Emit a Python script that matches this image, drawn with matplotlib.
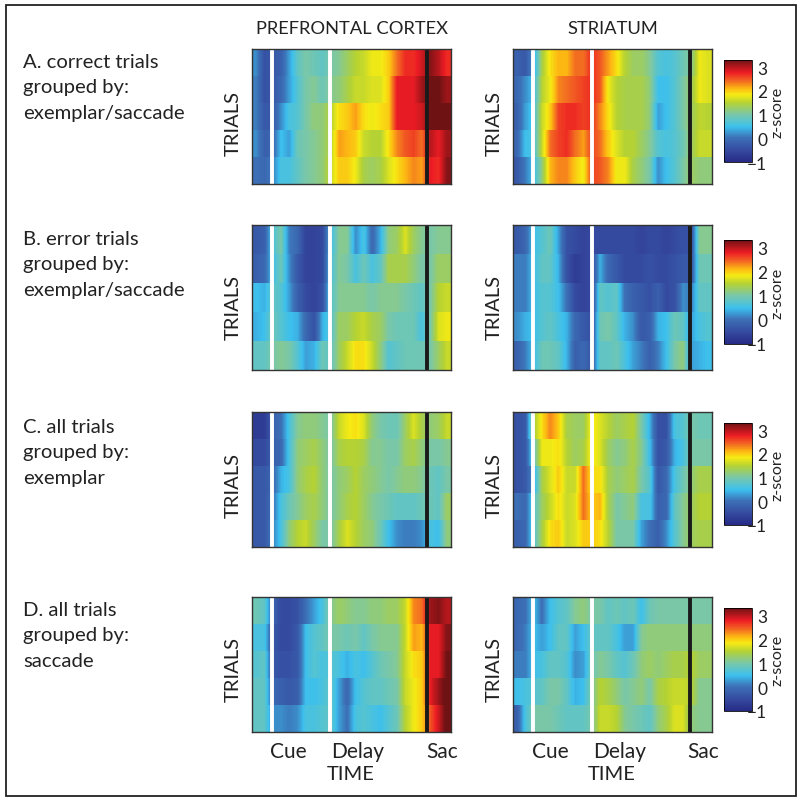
# Z-scored activity heatmaps, prefrontal cortex vs striatum
import matplotlib
matplotlib.use("Agg")
import matplotlib.pyplot as plt
from matplotlib.colors import LinearSegmentedColormap, Normalize
from matplotlib.cm import ScalarMappable
from matplotlib.patches import Rectangle

plt.rcParams['font.family'] = ['Lato', 'DejaVu Sans']

W, H = 800, 803

# ---------------------------------------------------------
# Data (5 trial groups, 24 time bins)
# ---------------------------------------------------------
pfc_a = [
    [0.2, -0.4, -0.3, -0.2, 0.3, 0.8, 1.0, 0.9, 0.8, 1.0, 1.1, 1.3, 1.5, 1.6, 1.8, 1.8, 2.0, 2.4, 2.7, 2.7, 2.9, 3.2, 3.0, 2.7],
    [0.1, -0.4, -0.3, -0.1, 0.3, 0.7, 1.0, 1.1, 0.9, 1.1, 1.2, 1.4, 1.6, 1.6, 1.7, 1.7, 2.0, 2.8, 2.8, 2.8, 3.1, 3.3, 3.3, 3.1],
    [0.1, -0.3, -0.3, 0.2, 0.6, 0.7, 1.0, 1.2, 1.2, 1.5, 1.9, 2.0, 2.2, 1.9, 1.8, 1.9, 2.0, 2.8, 2.8, 2.8, 2.9, 3.3, 3.4, 3.4],
    [0.2, -0.2, -0.1, 0.5, 0.3, 0.9, 1.0, 1.1, 1.2, 1.5, 2.2, 2.1, 2.0, 1.6, 1.5, 1.5, 1.9, 2.3, 2.5, 2.6, 2.4, 3.0, 2.8, 3.1],
    [0.0, -0.1, 0.1, 0.6, 0.6, 0.8, 1.0, 1.1, 1.2, 1.6, 2.0, 2.0, 1.8, 1.4, 1.3, 1.4, 1.7, 1.9, 2.1, 2.3, 2.2, 2.8, 2.7, 3.2],
]
str_a = [
    [-0.2, -0.3, 0.3, 1.4, 1.9, 2.1, 2.1, 2.4, 2.4, 2.7, 2.5, 2.2, 1.9, 1.5, 1.3, 1.3, 1.1, 0.7, 0.6, 0.7, 0.9, 1.1, 1.8, 1.7],
    [-0.1, 0.2, 0.5, 1.5, 1.8, 2.3, 2.4, 2.5, 2.6, 2.7, 2.5, 1.8, 1.5, 1.4, 1.4, 1.4, 1.2, 0.5, 0.5, 0.7, 1.0, 1.3, 1.8, 1.7],
    [-0.2, 0.3, 0.6, 1.6, 2.0, 2.6, 2.7, 2.7, 2.6, 2.7, 2.3, 1.9, 1.5, 1.4, 1.4, 1.4, 1.2, 0.3, 0.5, 0.7, 1.0, 1.3, 1.55, 1.5],
    [-0.1, 0.5, 0.6, 1.6, 2.4, 2.6, 2.7, 2.4, 2.2, 2.6, 2.4, 2.0, 1.7, 1.5, 1.5, 1.3, 1.1, 0.7, 0.6, 0.7, 0.9, 1.3, 1.6, 1.6],
    [-0.3, 0.1, 0.5, 1.2, 2.1, 2.3, 2.3, 2.0, 1.8, 2.6, 2.5, 2.3, 1.8, 1.8, 1.4, 1.2, 1.0, 0.2, 0.5, 0.7, 1.0, 1.3, 1.2, 1.2],
]
pfc_b = [
    [-0.3, -0.2, 0.6, 1.0, 0.1, -0.1, -0.6, -0.6, -0.5, 0.5, 1.1, 1.1, 0.2, 0.6, -0.1, 0.4, 1.2, 1.3, 1.7, 1.3, 1.1, 1.0, 1.1, 1.1],
    [-0.2, -0.1, 0.5, 0.9, 0.2, -0.3, -0.6, -0.6, -0.5, 0.6, 1.1, 1.0, 0.6, 0.9, 0.6, 0.8, 1.4, 1.4, 1.4, 1.2, 1.0, 1.0, 1.3, 1.3],
    [0.5, 0.4, 0.8, 0.7, 0.3, -0.2, -0.5, -0.6, -0.4, 0.7, 1.1, 1.1, 1.1, 1.1, 1.0, 1.1, 1.1, 1.1, 1.0, 0.9, 0.8, 1.0, 1.5, 1.6],
    [0.4, 0.5, 0.9, 0.7, 0.5, 0.4, -0.1, -0.4, 0.4, 0.7, 1.3, 1.3, 1.5, 1.6, 1.4, 1.3, 1.0, 0.9, 0.9, 0.9, 0.6, 1.0, 1.7, 1.8],
    [0.8, 0.8, 1.0, 1.1, 1.0, 0.7, 0.3, 0.4, 0.9, 0.8, 1.3, 1.6, 1.9, 1.9, 1.6, 1.2, 0.7, 0.8, 0.9, 0.9, 0.9, 1.0, 1.3, 1.6],
]
str_b = [
    [-0.3, -0.1, 0.5, 0.7, 0.9, 0.3, -0.4, -0.5, -0.6, -0.5, -0.5, -0.5, -0.5, -0.5, -0.5, -0.6, -0.5, -0.5, -0.6, -0.5, -0.4, -0.4, 1.1, 1.1],
    [0.1, 0.1, 0.5, 0.8, 0.8, 0.4, -0.4, -0.7, -0.6, -0.5, 0.4, -0.1, -0.3, -0.5, -0.5, -0.5, -0.4, -0.5, -0.5, -0.4, -0.3, -0.3, 0.9, 0.9],
    [0.1, 0.1, 0.5, 0.7, 0.7, 0.5, 0.0, -0.5, -0.6, -0.5, 0.8, 0.7, 0.8, 0.0, -0.2, -0.3, -0.4, -0.2, -0.5, -0.4, 0.2, 0.1, 0.8, 0.8],
    [0.2, 0.4, 0.5, 0.7, 0.8, 0.6, 0.4, -0.1, -0.3, -0.4, 0.9, 1.0, 0.8, 0.4, 0.2, -0.3, -0.2, 0.4, 0.5, 0.9, 0.8, 0.3, 0.6, 0.7],
    [-0.2, 0.1, 0.5, 0.9, 0.9, 0.8, 0.4, -0.2, -0.1, -0.3, 0.8, 0.8, 0.9, 0.6, 0.3, 0.1, -0.2, 0.1, 0.5, 1.0, 1.2, 0.3, 0.4, 0.5],
]
pfc_c = [
    [-0.7, -0.7, -0.2, 0.0, 0.6, 1.1, 1.2, 1.2, 1.1, 1.0, 1.6, 1.8, 1.9, 1.7, 1.2, 1.0, 0.9, 0.9, 1.3, 1.7, 1.4, 1.2, 1.3, 1.6],
    [-0.5, -0.5, -0.2, -0.1, 0.6, 1.2, 1.3, 1.4, 1.2, 1.0, 1.4, 1.5, 1.5, 1.4, 1.1, 1.1, 1.0, 1.0, 1.3, 1.4, 1.2, 1.0, 1.0, 1.1],
    [-0.3, -0.3, -0.1, 0.4, 0.6, 1.2, 1.4, 1.5, 1.2, 1.0, 1.2, 1.3, 1.5, 1.3, 1.2, 1.1, 1.0, 1.1, 1.2, 1.2, 1.1, 0.9, 0.8, 1.0],
    [-0.3, -0.3, 0.0, 0.6, 0.9, 1.1, 1.3, 1.4, 1.2, 1.0, 1.2, 1.4, 1.5, 1.3, 1.1, 1.0, 0.9, 0.8, 0.8, 0.8, 0.9, 0.9, 0.8, 1.3],
    [-0.3, -0.3, 0.1, 0.6, 1.2, 1.5, 1.6, 1.3, 1.0, 1.0, 1.4, 1.7, 1.5, 1.3, 1.2, 0.9, 0.5, 0.2, 0.1, 0.1, 0.2, 0.6, 0.5, 1.2],
]
str_c = [
    [-0.4, -0.3, 1.4, 1.9, 2.3, 2.0, 1.4, 1.3, 1.3, 1.9, 1.7, 1.5, 1.3, 1.4, 1.5, 1.0, 0.4, -0.4, -0.4, 0.6, 0.7, 1.0, 0.9, 0.9],
    [-0.4, -0.3, 0.8, 1.8, 1.8, 1.9, 1.5, 1.3, 1.4, 1.9, 1.7, 1.3, 1.1, 1.2, 1.4, 1.1, 0.5, -0.4, -0.3, 0.4, 0.6, 1.0, 1.0, 1.0],
    [-0.4, -0.3, 0.3, 1.4, 1.7, 2.0, 1.6, 1.6, 2.4, 1.9, 1.9, 1.4, 1.2, 1.3, 1.4, 1.0, 0.7, -0.3, -0.1, 0.6, 0.9, 1.2, 1.4, 1.4],
    [0.0, -0.1, 0.7, 1.3, 1.6, 1.9, 1.6, 1.7, 2.4, 2.0, 2.1, 1.4, 1.0, 1.1, 1.2, 0.6, 0.6, -0.2, -0.1, 0.8, 1.1, 1.3, 1.5, 1.5],
    [-0.2, -0.1, 0.7, 1.4, 1.9, 2.0, 1.6, 1.7, 2.0, 2.0, 1.9, 1.5, 1.0, 1.0, 1.0, 0.3, 0.0, -0.2, 0.2, 0.7, 1.1, 1.3, 1.4, 1.4],
]
pfc_d = [
    [0.9, 0.8, -0.1, -0.5, -0.5, -0.4, 0.0, 0.3, 0.6, 1.1, 1.3, 1.2, 1.1, 1.1, 1.2, 1.2, 1.3, 1.3, 1.6, 2.3, 2.4, 3.1, 3.2, 3.0],
    [0.6, 0.6, -0.3, -0.5, -0.5, -0.3, 0.5, 0.7, 0.8, 1.0, 1.0, 0.9, 1.0, 0.8, 1.0, 1.1, 1.1, 1.1, 1.6, 2.2, 2.1, 2.8, 2.8, 3.2],
    [0.7, 0.8, -0.3, -0.4, -0.4, -0.3, 0.5, 0.7, 0.6, 0.7, 0.6, 0.4, 0.6, 0.5, 0.7, 0.9, 1.0, 1.1, 1.6, 1.9, 2.0, 2.8, 2.8, 3.3],
    [0.8, 0.8, -0.1, -0.2, -0.3, -0.2, 0.5, 0.5, 0.6, 0.8, 0.3, -0.1, 0.5, 0.7, 0.8, 0.8, 0.9, 1.0, 1.6, 1.8, 2.0, 2.8, 3.1, 3.4],
    [0.8, 0.8, 0.2, 0.2, 0.1, 0.2, 0.6, 0.6, 0.7, 0.8, 0.3, 0.0, 0.6, 0.7, 0.6, 0.5, 0.7, 0.9, 1.5, 1.8, 2.0, 2.5, 2.9, 3.4],
]
str_d = [
    [-0.1, 0.0, 0.5, 0.0, 0.5, 0.7, 0.8, 1.1, 1.2, 1.0, 1.0, 0.8, 0.9, 0.8, 0.9, 0.5, 0.9, 1.0, 1.0, 1.0, 1.0, 1.0, 1.0, 1.0],
    [-0.1, 0.1, 0.5, 0.3, 0.5, 0.8, 0.8, 0.3, 0.5, 0.8, 0.8, 0.8, 0.6, 0.3, 0.3, 1.1, 1.2, 1.2, 1.2, 1.2, 1.2, 1.2, 1.2, 1.2],
    [0.1, 0.1, 0.5, 0.6, 0.8, 0.8, 0.7, 0.2, 0.3, 0.9, 1.1, 1.0, 0.8, 0.7, 0.9, 1.2, 1.3, 1.2, 1.3, 1.4, 1.4, 1.5, 1.3, 1.3],
    [0.5, 0.6, 0.7, 0.8, 1.0, 1.0, 0.8, 0.4, 0.5, 1.0, 1.5, 1.4, 1.2, 1.0, 1.1, 1.2, 1.0, 1.4, 1.5, 1.6, 1.6, 1.5, 1.1, 1.1],
    [-0.2, 0.6, 1.0, 1.0, 1.0, 0.9, 0.8, 0.8, 0.8, 1.0, 1.6, 1.6, 1.5, 1.1, 1.0, 0.9, 0.8, 1.2, 1.4, 1.7, 1.7, 1.2, 1.1, 1.1],
]

row_labels = ["A. correct trials\ngrouped by:\nexemplar/saccade",
              "B. error trials\ngrouped by:\nexemplar/saccade",
              "C. all trials\ngrouped by:\nexemplar",
              "D. all trials\ngrouped by:\nsaccade"]
col_titles = ["PREFRONTAL CORTEX", "STRIATUM"]
cbar_ticks = [-1, 0, 1, 2, 3]
cbar_labels = ['\u22121', '0', '1', '2', '3']
event_cols = {0: [2.4, 9.4, 21.1], 1: [2.4, 9.5, 21.4]}
event_colors = ['white', 'white', '#1a1a1a']
panels = [[pfc_a, str_a], [pfc_b, str_b], [pfc_c, str_c], [pfc_d, str_d]]

# ---------------------------------------------------------
# Layout in pixels
# ---------------------------------------------------------
col_x = [(252, 451), (513, 712)]
row_y = [(50, 185), (226, 371), (413, 548), (598, 733)]
cbar_y = [(61, 163), (241, 345), (424, 526), (609, 712)]
label_y = [64, 241, 429, 612]
trials_y = [124, 308, 486, 670]


def add_ax(fig, x0, x1, y0, y1):
    return fig.add_axes([x0 / W, 1 - y1 / H, (x1 - x0) / W, (y1 - y0) / H])


cmap = LinearSegmentedColormap.from_list("muted_jet", [
    (0.00, '#252a86'),
    (0.10, '#34469c'),
    (0.24, '#3d72b8'),
    (0.345, '#3cc0ee'),
    (0.47, '#7cc8a6'),
    (0.58, '#b4d234'),
    (0.66, '#f6eb14'),
    (0.72, '#fdb913'),
    (0.80, '#f26522'),
    (0.88, '#ed1c24'),
    (1.00, '#6e1214'),
])
norm = Normalize(vmin=-1, vmax=3.3)

fig = plt.figure(figsize=(W / 100, H / 100), dpi=100)
fig.add_artist(Rectangle((5.5 / W, 1 - 797 / H), 790 / W, 791 / H, fill=False,
                         edgecolor='#222222', linewidth=1.3,
                         transform=fig.transFigure))

# ---------------------------------------------------------
# Heatmaps
# ---------------------------------------------------------
for r, row in enumerate(panels):
    for c, data in enumerate(row):
        ax = add_ax(fig, col_x[c][0], col_x[c][1], row_y[r][0], row_y[r][1])
        # each trial group is its own strip so rows keep hard edges
        for i, vals in enumerate(data):
            ax.imshow([vals], extent=(0, 24, i + 1, i), aspect='auto',
                      cmap=cmap, norm=norm, interpolation='bilinear')
        ax.set_xlim(0, 24)
        ax.set_ylim(5, 0)
        ax.set_xticks([])
        ax.set_yticks([])
        for s in ax.spines.values():
            s.set_linewidth(1.0)
            s.set_color('#333333')
        for x, col in zip(event_cols[c], event_colors):
            ax.axvline(x, color=col, linewidth=2.8)

        fig.text((col_x[c][0] - 19) / W, 1 - trials_y[r] / H,
                 "TRIALS", rotation=90, ha='center', va='center', fontsize=14.5,
                 color='#222222')

    cax = add_ax(fig, 724, 752, cbar_y[r][0], cbar_y[r][1])
    cb = fig.colorbar(ScalarMappable(norm=norm, cmap=cmap), cax=cax, ticks=cbar_ticks)
    cb.ax.set_yticklabels(cbar_labels, ha='right')
    cb.ax.tick_params(length=0, pad=11, labelsize=12.5, labelcolor='#222222')
    cb.outline.set_linewidth(0.6)
    fig.text(778 / W, 1 - (cbar_y[r][0] + cbar_y[r][1]) / 2 / H, "z-score",
             rotation=90, ha='center', va='center', fontsize=11.5, color='#222222')

    fig.text(23 / W, 1 - (label_y[r] - 10) / H, row_labels[r], ha='left', va='top',
             fontsize=14.6, linespacing=1.6, color='#222222')

# ---------------------------------------------------------
# Column titles and time labels
# ---------------------------------------------------------
for c, title in enumerate(col_titles):
    fig.text(sum(col_x[c]) / 2 / W, 1 - 29 / H, title, ha='center', va='center',
             fontsize=13.2, color='#222222')

for name, x in [("Cue", 288), ("Delay", 358), ("Sac", 442), ("Cue", 550), ("Delay", 620), ("Sac", 703)]:
    fig.text(x / W, 1 - 752 / H, name, ha='center', va='center', fontsize=15, color='#222222')
for x in [351, 612]:
    fig.text(x / W, 1 - 775 / H, "TIME", ha='center', va='center', fontsize=14.5, color='#222222')

plt.savefig("out.png", dpi=100)
plt.close()
